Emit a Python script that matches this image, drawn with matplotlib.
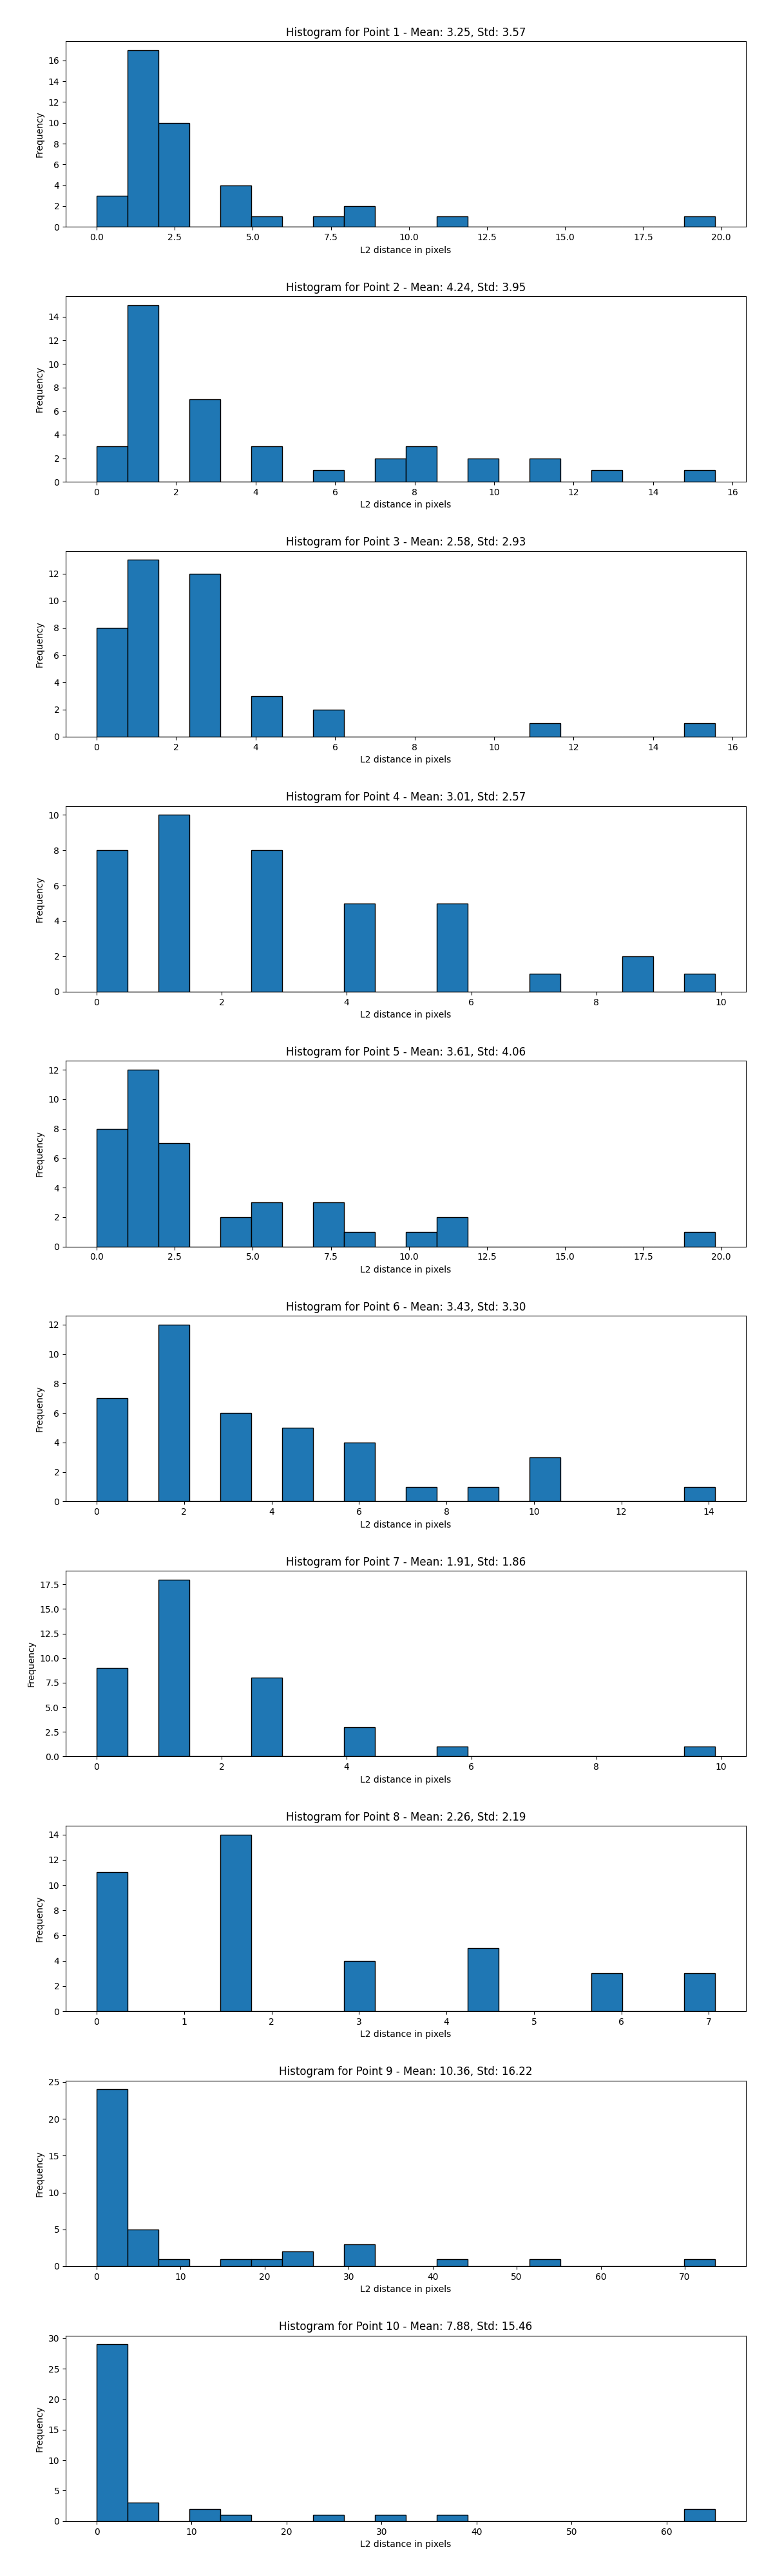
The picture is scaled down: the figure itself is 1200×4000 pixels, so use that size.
import matplotlib
matplotlib.use('Agg')
import matplotlib.pyplot as plt
import numpy as np

# bin counts (20 bins from 0 to the largest distance)
counts_p1 = [3, 17, 10, 0, 4, 1, 0, 1, 2, 0, 0, 1, 0, 0, 0, 0, 0, 0, 0, 1]
counts_p2 = [3, 15, 0, 7, 0, 3, 0, 1, 0, 2, 3, 0, 2, 0, 2, 0, 1, 0, 0, 1]
counts_p3 = [8, 13, 0, 12, 0, 3, 0, 2, 0, 0, 0, 0, 0, 0, 1, 0, 0, 0, 0, 1]
counts_p4 = [8, 0, 10, 0, 0, 8, 0, 0, 5, 0, 0, 5, 0, 0, 1, 0, 0, 2, 0, 1]
counts_p5 = [8, 12, 7, 0, 2, 3, 0, 3, 1, 0, 1, 2, 0, 0, 0, 0, 0, 0, 0, 1]
counts_p6 = [7, 0, 12, 0, 6, 0, 5, 0, 4, 0, 1, 0, 1, 0, 3, 0, 0, 0, 0, 1]
counts_p7 = [9, 0, 18, 0, 0, 8, 0, 0, 3, 0, 0, 1, 0, 0, 0, 0, 0, 0, 0, 1]
counts_p8 = [11, 0, 0, 0, 14, 0, 0, 0, 4, 0, 0, 0, 5, 0, 0, 0, 3, 0, 0, 3]
counts_p9 = [24, 5, 1, 0, 1, 1, 2, 0, 3, 0, 0, 1, 0, 0, 1, 0, 0, 0, 0, 1]
counts_p10 = [29, 3, 0, 2, 1, 0, 0, 1, 0, 1, 0, 1, 0, 0, 0, 0, 0, 0, 0, 2]

all_counts = [counts_p1, counts_p2, counts_p3, counts_p4, counts_p5,
              counts_p6, counts_p7, counts_p8, counts_p9, counts_p10]

# largest distance per point (right edge of the last bin)
max_dist = [19.80, 15.56, 15.56, 9.90, 19.80, 14.14, 9.90, 7.07, 73.6, 65.1]
means = [3.25, 4.24, 2.58, 3.01, 3.61, 3.43, 1.91, 2.26, 10.36, 7.88]
stds = [3.57, 3.95, 2.93, 2.57, 4.06, 3.30, 1.86, 2.19, 16.22, 15.46]

fig, axes = plt.subplots(10, 1, figsize=(12, 40))

for i, ax in enumerate(axes):
    edges = np.linspace(0, max_dist[i], 21)
    ax.hist(edges[:-1], bins=edges, weights=all_counts[i], edgecolor='black')
    ax.set_title(f'Histogram for Point {i + 1} - Mean: {means[i]:.2f}, Std: {stds[i]:.2f}')
    ax.set_xlabel('L2 distance in pixels')
    ax.set_ylabel('Frequency')

plt.subplots_adjust(left=0.085, right=0.965, top=0.984, bottom=0.0213, hspace=0.373)
plt.savefig('out.png', dpi=100)
